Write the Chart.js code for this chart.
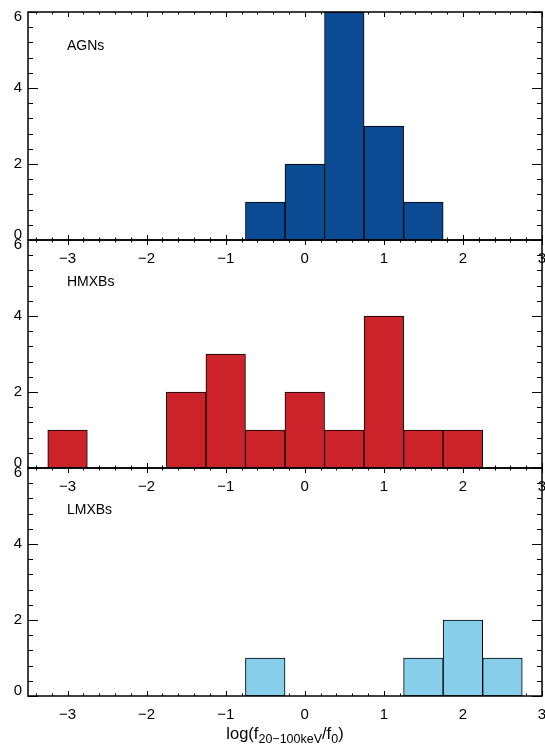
<!DOCTYPE html>
<html>
<head>
<meta charset="utf-8">
<script src="https://cdn.jsdelivr.net/npm/chart.js@4.4.1/dist/chart.umd.min.js"></script>
<style>
  html, body { margin: 0; padding: 0; background: #fff; overflow: hidden; }
  #wrap { position: relative; width: 545px; height: 745px; overflow: hidden; }
  canvas { position: absolute; left: 0; }
</style>
</head>
<body>
<div id="wrap">
  <canvas id="agn" width="560" height="300" style="top:0px"></canvas>
  <canvas id="hmxb" width="560" height="300" style="top:228px"></canvas>
  <canvas id="lmxb" width="560" height="300" style="top:456px"></canvas>
</div>
<script>
// bin centres of log(f20-100keV / f0), bins are 0.5 dex wide
const binCenters = [-3.0, -2.5, -2.0, -1.5, -1.0, -0.5, 0.0, 0.5, 1.0, 1.5, 2.0, 2.5];
const agnCounts  = [0, 0, 0, 0, 0, 1, 2, 6, 3, 1, 0, 0];
const hmxbCounts = [1, 0, 0, 2, 3, 1, 2, 1, 4, 1, 1, 0];
const lmxbCounts = [0, 0, 0, 0, 0, 1, 0, 0, 0, 1, 2, 1];
const xTicks = [-3, -2, -1, 0, 1, 2, 3];
const yTicks = [0, 2, 4, 6];

const FONT = '"Liberation Sans", Arial, Helvetica, sans-serif';
const tickFont = { family: FONT, size: 15 };

// inward tick marks on all four sides (minor 0.2 in x, 0.4 in y), box, y labels, panel name
const framePlugin = {
  id: 'frame',
  beforeDatasetsDraw(chart) {
    const { ctx, chartArea: a, scales: { x, y } } = chart;
    ctx.save();
    ctx.strokeStyle = '#000';
    ctx.lineWidth = 1;
    ctx.beginPath();
    for (let i = -17; i <= 15; i++) {
      const px = Math.round(x.getPixelForValue(i / 5)) + 0.5;
      const len = i % 5 === 0 ? 5 : 2.5;
      ctx.moveTo(px, a.bottom); ctx.lineTo(px, a.bottom - len);
      ctx.moveTo(px, a.top); ctx.lineTo(px, a.top + len);
    }
    for (let j = 0; j <= 15; j++) {
      const py = Math.round(y.getPixelForValue(j * 0.4)) + 0.5;
      const len = j % 5 === 0 ? 10 : 5;
      ctx.moveTo(a.left, py); ctx.lineTo(a.left + len, py);
      ctx.moveTo(a.right, py); ctx.lineTo(a.right - len, py);
    }
    ctx.stroke();
    ctx.restore();
  },
  afterDatasetsDraw(chart, args, opts) {
    const { ctx, chartArea: a, scales: { y } } = chart;
    ctx.save();
    ctx.strokeStyle = '#000';
    ctx.lineWidth = 1.5;
    ctx.strokeRect(a.left, a.top, a.right - a.left, a.bottom - a.top);
    ctx.fillStyle = '#000';
    // y labels: end labels are nudged inside the axis range
    ctx.font = '15px ' + FONT;
    ctx.textAlign = 'right';
    ctx.textBaseline = 'middle';
    const yMin = yTicks[0], yMax = yTicks[yTicks.length - 1];
    yTicks.forEach(v => {
      const shift = v === yMin ? -5 : v === yMax ? 5 : 0;
      ctx.fillText(String(v), a.left - 6, y.getPixelForValue(v) + shift);
    });
    ctx.font = '14px ' + FONT;
    ctx.textAlign = 'left';
    ctx.fillText(opts.label, a.left + 39, a.top + opts.labelDy);
    ctx.restore();
  }
};

// x-axis title with subscripts, only on the bottom panel
const xTitlePlugin = {
  id: 'xTitle',
  afterDraw(chart, args, opts) {
    if (!opts.show) return;
    const { ctx, chartArea: a } = chart;
    const parts = [
      ['log(f', 16.5, 0], ['20\u2212100keV', 12.5, 4], ['/f', 16.5, 0], ['0', 12.5, 4], [')', 16.5, 0]
    ];
    ctx.save();
    ctx.fillStyle = '#000';
    ctx.textBaseline = 'alphabetic';
    let total = 0;
    parts.forEach(p => { ctx.font = p[1] + 'px ' + FONT; total += ctx.measureText(p[0]).width; });
    let cx = (a.left + a.right) / 2 - total / 2;
    const base = a.bottom + 43;
    parts.forEach(p => {
      ctx.font = p[1] + 'px ' + FONT;
      ctx.fillText(p[0], cx, base + p[2]);
      cx += ctx.measureText(p[0]).width;
    });
    ctx.restore();
  }
};

function makePanel(id, counts, color, label, labelDy, withTitle) {
  const points = [];
  binCenters.forEach((c, i) => { if (counts[i] > 0) points.push({ x: c, y: counts[i] }); });
  return new Chart(document.getElementById(id), {
    type: 'bar',
    data: {
      datasets: [{
        data: points,
        backgroundColor: color,
        borderColor: '#000',
        borderWidth: 1,
        borderSkipped: false,
        barPercentage: 1,
        categoryPercentage: 1
      }]
    },
    options: {
      responsive: false,
      animation: false,
      layout: { padding: { top: 12, right: 18, left: 0, bottom: 0 } },
      plugins: {
        legend: { display: false },
        tooltip: { enabled: false },
        frame: { label: label, labelDy: labelDy },
        xTitle: { show: withTitle }
      },
      scales: {
        x: {
          type: 'linear',
          min: -3.5,
          max: 3,
          offset: false,
          grid: { display: false, drawTicks: false },
          border: { display: false },
          afterBuildTicks: s => { s.ticks = xTicks.map(v => ({ value: v })); },
          afterFit: s => { s.height = 60; },
          ticks: {
            padding: 10,
            color: '#000',
            font: tickFont,
            callback: v => (v < 0 ? '\u2212' + Math.abs(v) : String(v))
          }
        },
        y: {
          min: 0,
          max: 6,
          grid: { display: false, drawTicks: false },
          border: { display: false },
          afterBuildTicks: s => { s.ticks = yTicks.map(v => ({ value: v })); },
          afterFit: s => { s.width = 28; },
          ticks: { display: false }
        }
      }
    },
    plugins: [framePlugin, xTitlePlugin]
  });
}

makePanel('agn', agnCounts, '#0b4b93', 'AGNs', 34, false);
makePanel('hmxb', hmxbCounts, '#cc2229', 'HMXBs', 42, false);
makePanel('lmxb', lmxbCounts, '#87ceeb', 'LMXBs', 42, true);
</script>
</body>
</html>
